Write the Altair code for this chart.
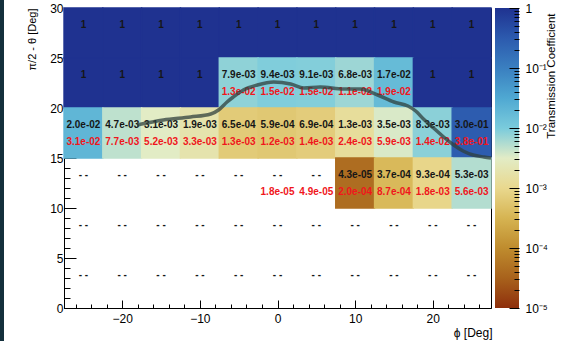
import altair as alt
import pandas as pd

# ---------------- data ----------------
PHI = [-25, -20, -15, -10, -5, 0, 5, 10, 15, 20, 25]
THETA = [27.5, 22.5, 17.5, 12.5, 7.5, 2.5]

# transmission coefficient (black numbers, also the cell colour); None -> "--"
T_25_30 = [1, 1, 1, 1, 1, 1, 1, 1, 1, 1, 1]
T_20_25 = [1, 1, 1, 1, 7.9e-03, 9.4e-03, 9.1e-03, 6.8e-03, 1.7e-02, 1, 1]
T_15_20 = [2.0e-02, 4.7e-03, 3.1e-03, 1.9e-03, 6.5e-04, 5.9e-04, 6.9e-04, 1.3e-03, 3.5e-03, 8.3e-03, 3.0e-01]
T_10_15 = [None, None, None, None, None, None, None, 4.3e-05, 3.7e-04, 9.3e-04, 5.3e-03]
T_5_10 = [None, None, None, None, None, None, None, None, None, None, None]
T_0_5 = [None, None, None, None, None, None, None, None, None, None, None]

# second value (red numbers)
R_25_30 = [None, None, None, None, None, None, None, None, None, None, None]
R_20_25 = [None, None, None, None, 1.3e-02, 1.5e-02, 1.5e-02, 1.1e-02, 1.9e-02, None, None]
R_15_20 = [3.1e-02, 7.7e-03, 5.2e-03, 3.3e-03, 1.3e-03, 1.2e-03, 1.4e-03, 2.4e-03, 5.9e-03, 1.4e-02, 3.8e-01]
R_10_15 = [None, None, None, None, None, 1.8e-05, 4.9e-05, 2.0e-04, 8.7e-04, 1.8e-03, 5.6e-03]
R_5_10 = [None, None, None, None, None, None, None, None, None, None, None]
R_0_5 = [None, None, None, None, None, None, None, None, None, None, None]

# grey contour curve
CURVE_PHI = [-18.1, -14.7, -11.2, -8.6, -7.6, -6.5, -5.7, -4.4, -2.6, -0.5, 1.7, 3.4,
             5.5, 8.5, 10.7, 12.9, 15.0, 16.8, 17.8, 18.8, 20.1, 21.4, 22.7, 23.9, 25.2, 26.6, 27.5]
CURVE_THETA = [18.3, 18.8, 19.1, 19.4, 19.8, 20.6, 21.1, 21.8, 22.3, 22.6, 22.4, 22.0,
               22.1, 21.9, 21.9, 21.3, 20.6, 20.2, 19.7, 18.9, 18.0, 17.1, 16.3, 15.7, 15.3, 15.1, 15.0]

X_TICKS = [-20, -10, 0, 10, 20]
X_MINOR = [-26, -24, -22, -18, -16, -14, -12, -8, -6, -4, -2, 2, 4, 6, 8, 12, 14, 16, 18, 22, 24, 26]
Y_TICKS = [0, 5, 10, 15, 20, 25, 30]
Y_MINOR = [1, 2, 3, 4, 6, 7, 8, 9, 11, 12, 13, 14, 16, 17, 18, 19, 21, 22, 23, 24, 26, 27, 28, 29]

CB_RANGE = [1e-5, 1.0]
CB_DECADES = [1e-5, 1e-4, 1e-3, 1e-2, 1e-1, 1.0]
CB_LABELS = ["10⁻⁵", "10⁻⁴", "10⁻³", "10⁻²", "10⁻¹", "1"]
CB_MINOR = [k * d for d in [1e-5, 1e-4, 1e-3, 1e-2, 1e-1] for k in [2, 3, 4, 5, 6, 7, 8, 9]]
CB_LEVELS = [1e-5, 3.16e-5, 1e-4, 3.16e-4, 1e-3, 3.16e-3, 1e-2, 3.16e-2, 1e-1, 3.16e-1, 1.0]
CB_COLORS = ["#8e2f0c", "#a8621c", "#bf8c2e", "#d6b452", "#e9d88e", "#e2ecc6",
             "#7acbdc", "#4fa8d2", "#3a7fc0", "#2c5aae", "#1f3290"]

FONT = "Liberation Sans"


def fmt(v, empty):
    if v is None:
        return empty
    if v == 1:
        return "1"
    return f"{v:.1e}"


rows = []
for th, trow, rrow in zip(THETA,
                          [T_25_30, T_20_25, T_15_20, T_10_15, T_5_10, T_0_5],
                          [R_25_30, R_20_25, R_15_20, R_10_15, R_5_10, R_0_5]):
    for ph, t, r in zip(PHI, trow, rrow):
        rows.append({"phi": ph, "theta": th, "val": t,
                     "blabel": fmt(t, "- -"), "rlabel": fmt(r, "")})
df = pd.DataFrame(rows)
curve = pd.DataFrame({"phi": CURVE_PHI, "theta": CURVE_THETA})
cb = pd.DataFrame({"lo": [CB_RANGE[0]], "hi": [CB_RANGE[1]]})

# ---------------- scales / axes ----------------
xs = alt.Scale(domain=[-27.5, 27.5], nice=False, zero=False)
ys = alt.Scale(domain=[0, 30], nice=False, zero=False)
cbs = alt.Scale(type="log", domain=CB_RANGE, nice=False)
cscale = alt.Scale(type="log", domain=CB_LEVELS, range=CB_COLORS, interpolate="rgb")

AX_MAIN = alt.Axis(orient="bottom", values=X_TICKS, ticks=False, grid=False,
                   domain=True, domainColor="black", domainWidth=1,
                   labelFont=FONT, labelFontSize=12, labelColor="black", labelPadding=5,
                   title="ϕ [Deg]", titleFont=FONT, titleFontSize=12, titleFontWeight="normal",
                   titleColor="black", titleX=428, titleY=24, titleAlign="right",
                   titleBaseline="middle", titleAnchor="end")
AY_MAIN = alt.Axis(orient="left", values=Y_TICKS, ticks=False, grid=False,
                   domain=True, domainColor="black", domainWidth=1,
                   labelFont=FONT, labelFontSize=12, labelColor="black", labelPadding=1,
                   title="π/2 - θ [Deg]", titleFont=FONT, titleFontSize=11,
                   titleFontWeight="normal", titleColor="black", titlePadding=12,
                   titleAngle=270, titleAnchor="end")
AX_MAJOR = alt.Axis(orient="bottom", values=X_TICKS, offset=-8, tickSize=8, tickColor="black",
                    labels=False, domain=False, grid=False, title=None)
AY_MAJOR = alt.Axis(orient="left", values=Y_TICKS, offset=-12, tickSize=12, tickColor="black",
                    labels=False, domain=False, grid=False, title=None)
AX_MINOR = alt.Axis(orient="bottom", values=X_MINOR, offset=-4, tickSize=4, tickColor="black",
                    labels=False, domain=False, grid=False, title=None)
AY_MINOR = alt.Axis(orient="left", values=Y_MINOR, offset=-6, tickSize=6, tickColor="black",
                    labels=False, domain=False, grid=False, title=None)

label_array = "[" + ",".join(f"'{s}'" for s in CB_LABELS) + "]"
CB_AXIS = alt.Axis(orient="right", values=CB_DECADES, offset=28, ticks=False, domain=False,
                   grid=False, labelFont=FONT, labelFontSize=12, labelColor="black",
                   labelPadding=6,
                   labelExpr=f"{label_array}[round(log(datum.value)/LN10)+5]",
                   title="Transmission Coefficient", titleFont=FONT, titleFontSize=11.5,
                   titleFontWeight="normal", titleColor="black", titleX=32, titleY=5,
                   titleAngle=270, titleAlign="right", titleBaseline="middle", titleAnchor="end")
CB_MAJOR = alt.Axis(orient="right", values=CB_DECADES, offset=18, tickSize=10, tickColor="black",
                    labels=False, domain=False, grid=False, title=None, zindex=1)
CB_MINOR_AX = alt.Axis(orient="right", values=CB_MINOR, offset=23, tickSize=5, tickColor="black",
                       labels=False, domain=False, grid=False, title=None, zindex=1)

# ---------------- layers ----------------
base = alt.Chart(df)

strip = alt.Chart(cb).mark_rect(color="#14303c").encode(
    x=alt.value(-64), x2=alt.value(-60), y=alt.value(-8), y2=alt.value(333))

cells = base.transform_filter("isValid(datum.val)").transform_calculate(
    x0="datum.phi - 2.5", x1="datum.phi + 2.5",
    y0="datum.theta - 2.5", y1="datum.theta + 2.5"
).mark_rect(strokeWidth=1.4).encode(
    x=alt.X("x0:Q", scale=xs, axis=AX_MAIN), x2="x1:Q",
    y=alt.Y("y0:Q", scale=ys, axis=AY_MAIN), y2="y1:Q",
    color=alt.Color("val:Q", scale=cscale, legend=None),
    stroke=alt.Stroke("val:Q", scale=cscale, legend=None),
)

black = base.mark_text(font=FONT, fontSize=10, fontWeight="bold", color="#161616", dy=-8).encode(
    x=alt.X("phi:Q", scale=xs, axis=AX_MAJOR),
    y=alt.Y("theta:Q", scale=ys, axis=AY_MAJOR),
    text="blabel:N")

red = base.transform_filter("datum.rlabel != ''").mark_text(
    font=FONT, fontSize=10, fontWeight="bold", color="#f0161c", dy=9).encode(
    x=alt.X("phi:Q", scale=xs, axis=AX_MINOR),
    y=alt.Y("theta:Q", scale=ys, axis=AY_MINOR),
    text="rlabel:N")

line = alt.Chart(curve).mark_line(color="#2f403e", strokeWidth=3.5, opacity=0.75,
                                  interpolate="monotone").encode(
    x=alt.X("phi:Q", scale=xs, axis=None),
    y=alt.Y("theta:Q", scale=ys, axis=None))

stops = [alt.GradientStop(color=c, offset=i / (len(CB_COLORS) - 1)) for i, c in enumerate(CB_COLORS)]
bar = alt.Chart(cb).mark_rect(
    color=alt.Gradient(gradient="linear", stops=stops, x1=0, x2=0, y1=1, y2=0)
).encode(x=alt.value(431), x2=alt.value(455),
         y=alt.Y("lo:Q", scale=cbs, axis=CB_AXIS), y2="hi:Q")
bar_major = alt.Chart(cb).mark_rect(opacity=0).encode(
    x=alt.value(431), x2=alt.value(455),
    y=alt.Y("lo:Q", scale=cbs, axis=CB_MAJOR), y2="hi:Q")
bar_minor = alt.Chart(cb).mark_rect(opacity=0).encode(
    x=alt.value(431), x2=alt.value(455),
    y=alt.Y("lo:Q", scale=cbs, axis=CB_MINOR_AX), y2="hi:Q")

chart = alt.layer(strip, cells, black, red, line, bar, bar_major, bar_minor).resolve_scale(
    x="independent", y="independent"
).resolve_axis(
    x="independent", y="independent"
).properties(
    width=427, height=300,
    padding={"left": 0, "top": 0, "right": 0, "bottom": 0},
).configure_view(stroke="black", strokeWidth=1)

chart.save("out.html", embed_options={"renderer": "svg", "actions": False})
